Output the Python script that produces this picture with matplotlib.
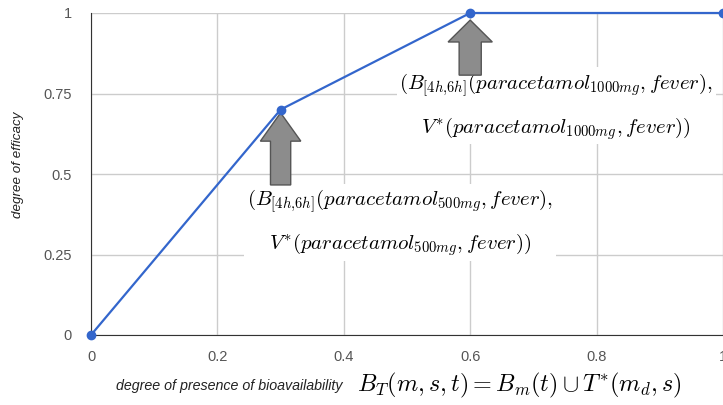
import matplotlib.pyplot as plt
from matplotlib.patches import FancyArrow

plt.rcParams['mathtext.fontset'] = 'cm'

# data
presence = [0, 0.3, 0.6, 1]
efficacy = [0, 0.7, 1, 1]
x_ticks = [0, 0.2, 0.4, 0.6, 0.8, 1]
x_tick_labels = ['0', '0.2', '0.4', '0.6', '0.8', '1']
y_ticks = [0, 0.25, 0.5, 0.75, 1]
y_tick_labels = ['0', '0.25', '0.5', '0.75', '1']

note_500 = ('$(B_{[4h{,}6h]}(paracetamol_{500mg},fever),$\n'
            '$V^{*}(paracetamol_{500mg},fever))$')
note_1000 = ('$(B_{[4h{,}6h]}(paracetamol_{1000mg},fever),$\n'
             '$V^{*}(paracetamol_{1000mg},fever))$')

fig = plt.figure(figsize=(7.23, 4.05), dpi=100)
ax = fig.add_axes([91 / 723, 70 / 405, 632 / 723, 322 / 405])

ax.plot(presence, efficacy, color='#3366cc', lw=1.6, marker='o', ms=6,
        zorder=5, clip_on=False)

ax.set_xlim(0, 1)
ax.set_ylim(0, 1)
ax.set_xticks(x_ticks)
ax.set_xticklabels(x_tick_labels)
ax.set_yticks(y_ticks)
ax.set_yticklabels(y_tick_labels)
ax.tick_params(length=0, colors='#555555', labelsize=10.5)
ax.tick_params(axis='y', pad=14)
ax.tick_params(axis='x', pad=11)
for lab in ax.get_xticklabels() + ax.get_yticklabels():
    lab.set_family('Liberation Sans')
ax.grid(True, color='#cccccc', lw=1)
ax.set_axisbelow(True)
for s in ['top', 'right']:
    ax.spines[s].set_visible(False)
ax.spines['left'].set_color('#333333')
ax.spines['bottom'].set_color('#333333')

# arrows (pointing up at the two doses)
ax.add_patch(FancyArrow(0.3, 0.466, 0, 0.224, width=0.032, head_width=0.064,
                        head_length=0.088, length_includes_head=True,
                        fc='#8c8c8c', ec='#555555', lw=1, zorder=4))
ax.add_patch(FancyArrow(0.6, 0.807, 0, 0.171, width=0.035, head_width=0.07,
                        head_length=0.068, length_includes_head=True,
                        fc='#8c8c8c', ec='#555555', lw=1, zorder=4))

box = dict(facecolor='white', edgecolor='none', pad=2)
ax.text(0.489, 0.349, note_500, ha='center', va='center', multialignment='center',
        fontsize=15, linespacing=1.9, bbox=box, zorder=3)
ax.text(0.736, 0.71, note_1000, ha='center', va='center', multialignment='center',
        fontsize=15, linespacing=1.9, bbox=box, zorder=3)

fig.text(18 / 723, 1 - 165 / 405, 'degree of efficacy', rotation=90, ha='center',
         va='center', fontsize=9.6, style='italic', family='Liberation Sans', color='#222222')
fig.text(343 / 723, 1 - 386 / 405, 'degree of presence of bioavailability', ha='right',
         va='center', fontsize=10.3, style='italic', family='Liberation Sans', color='#222222')
fig.text(357 / 723, 1 - 385 / 405, r'$B_T(m,s,t) = B_m(t) \cup T^{*}(m_d,s)$',
         ha='left', va='center', fontsize=17.4)

fig.savefig('out.png', dpi=100)
